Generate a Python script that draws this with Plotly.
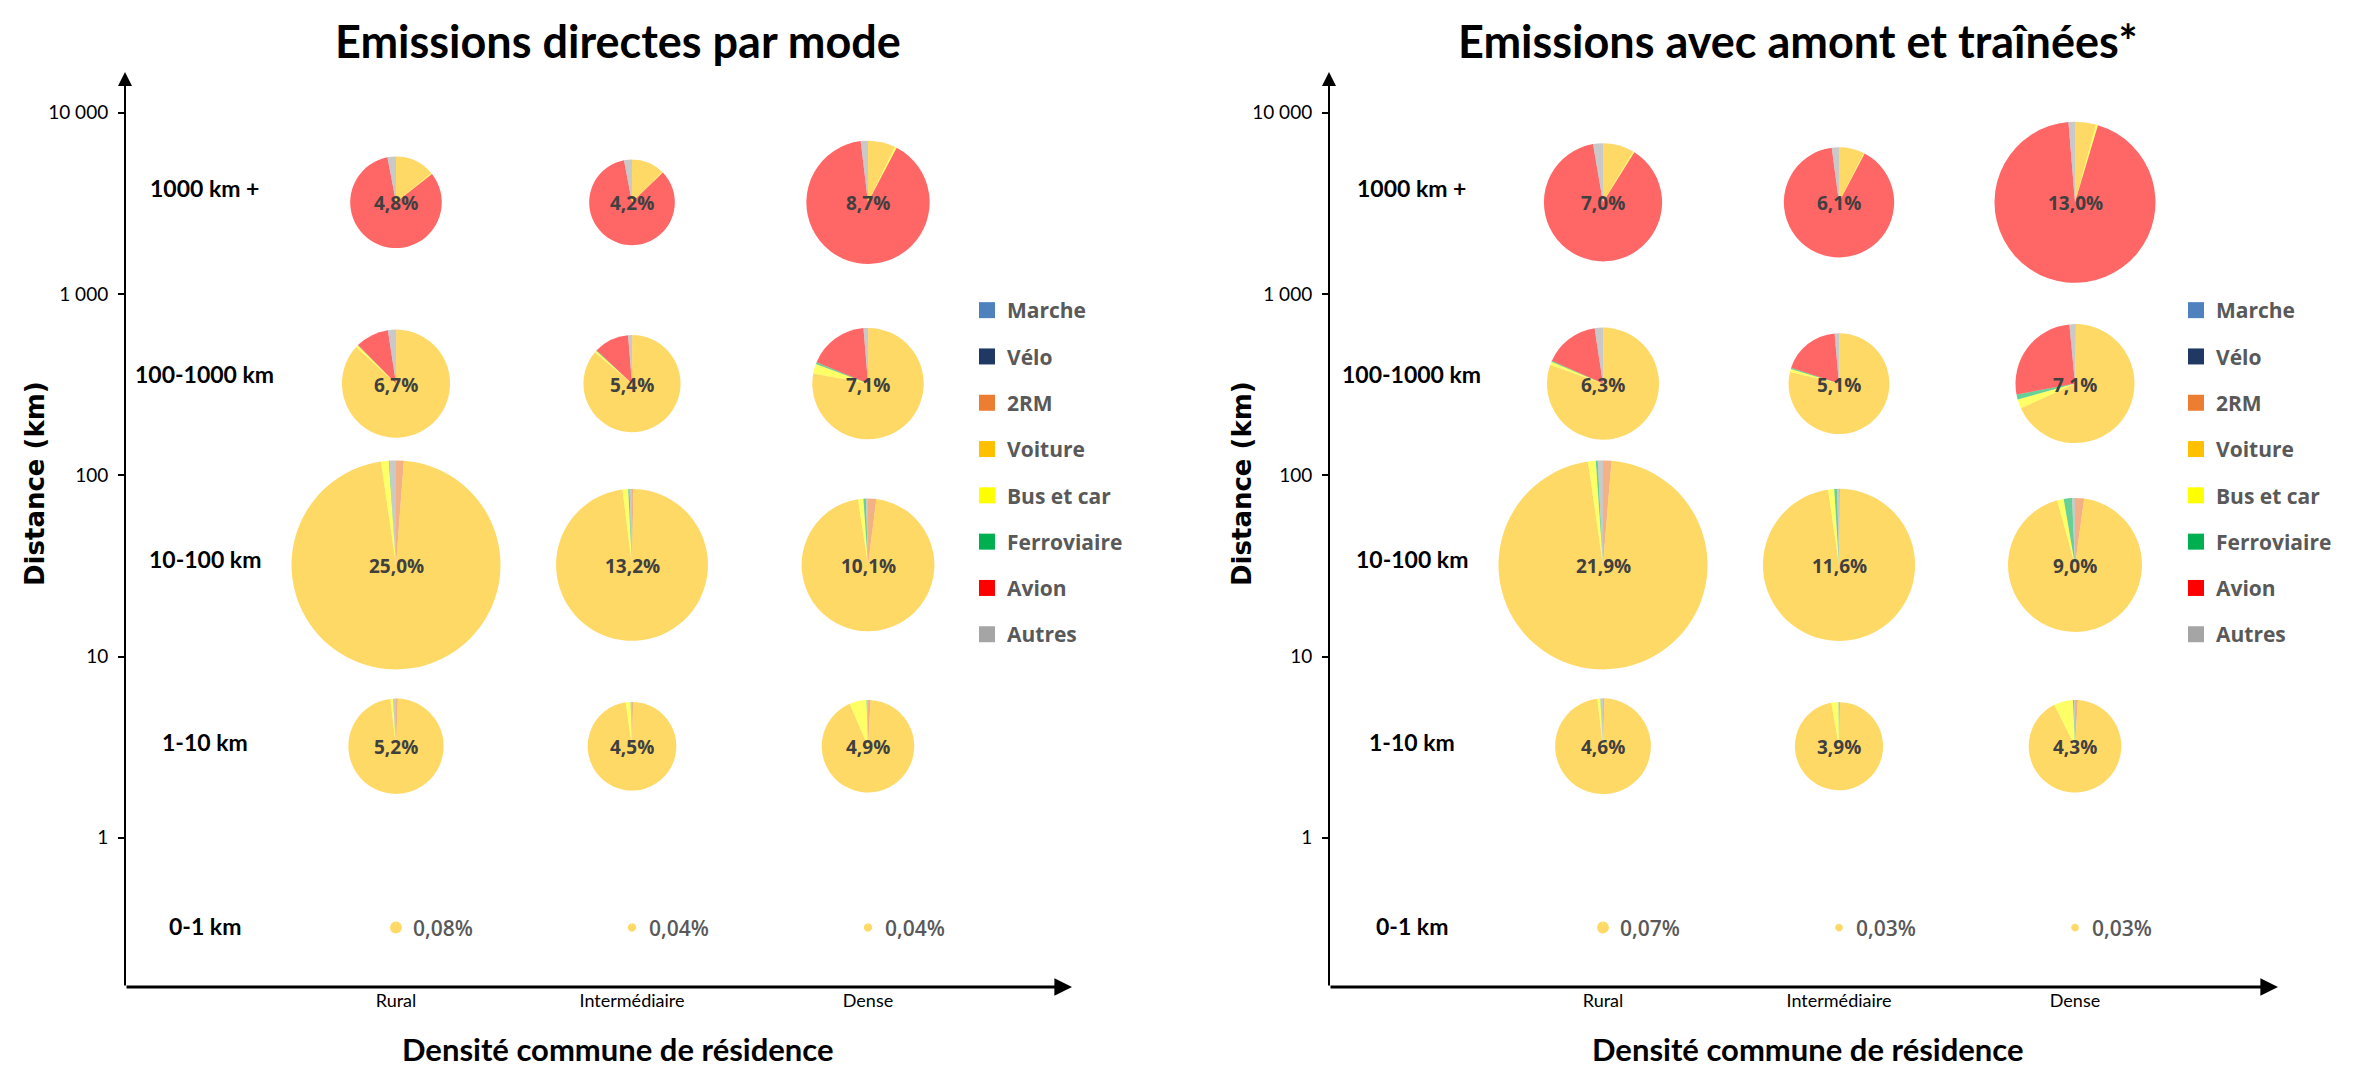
import math
import plotly.graph_objects as go

# ---------------- DATA ----------------
modes = ["Marche", "Vélo", "2RM", "Voiture", "Bus et car", "Ferroviaire", "Avion", "Autres"]
mode_colors = ["#4F81BD", "#1F3864", "#ED7D31", "#FFC000", "#FFFF00", "#00B050", "#FF0000", "#A5A5A5"]

densites = ["Rural", "Intermédiaire", "Dense"]
classes = ["0-1 km", "1-10 km", "10-100 km", "100-1000 km", "1000 km +"]
class_mid_km = [0.32, 3.2, 32, 320, 3200]      # geometric middle of each distance class

tick_vals = [1, 10, 100, 1000, 10000]
tick_text = ["1", "10", "100", "1 000", "10 000"]

# share of each class x density in total emissions (%), rows = classes, cols = densites
direct_totals = [[0.08, 0.04, 0.04], [5.2, 4.5, 4.9], [25.0, 13.2, 10.1], [6.7, 5.4, 7.1], [4.8, 4.2, 8.7]]
amont_totals = [[0.07, 0.03, 0.03], [4.6, 3.9, 4.3], [21.9, 11.6, 9.0], [6.3, 5.1, 7.1], [7.0, 6.1, 13.0]]

# modal split inside each pie (%), order = modes ; [Rural, Intermédiaire, Dense]
direct_0_1 = [[0, 0, 0.5, 98.5, 1.0, 0, 0, 0], [0, 0, 0.5, 98.5, 1.0, 0, 0, 0], [0, 0, 0.5, 98.5, 1.0, 0, 0, 0]]
direct_1_10 = [[0, 0, 0.6, 97.5, 0.9, 0.1, 0, 0.9], [0, 0, 0.4, 97.3, 1.8, 0.1, 0, 0.4], [0, 0, 0.9, 92.6, 6.0, 0.2, 0, 0.3]]
direct_10_100 = [[0, 0, 1.2, 96.5, 1.2, 0.1, 0, 1.0], [0, 0, 0.3, 97.7, 1.2, 0.3, 0, 0.5], [0, 0, 2.0, 95.6, 1.3, 0.6, 0, 0.5]]
direct_100_1000 = [[0, 0, 0.1, 86.7, 0.7, 0.1, 10.0, 2.4], [0, 0, 0.1, 86.1, 0.6, 0.2, 11.7, 1.3], [0, 0, 0.1, 77.8, 2.8, 0.6, 17.4, 1.3]]
direct_1000p = [[0, 0, 0, 14.0, 0.4, 0, 82.6, 3.0], [0, 0, 0, 12.5, 0.3, 0, 84.2, 3.0], [0, 0, 0, 7.2, 0.5, 0, 90.4, 1.9]]

amont_0_1 = [[0, 0, 0.5, 98.5, 1.0, 0, 0, 0], [0, 0, 0.5, 98.5, 1.0, 0, 0, 0], [0, 0, 0.5, 98.5, 1.0, 0, 0, 0]]
amont_1_10 = [[0, 0, 0.5, 97.6, 1.0, 0.1, 0, 0.8], [0, 0, 0.4, 96.8, 2.6, 0.1, 0, 0.1], [0, 0, 1.0, 91.6, 6.7, 0.4, 0, 0.3]]
amont_10_100 = [[0, 0, 1.3, 96.4, 1.2, 0.3, 0, 0.8], [0, 0, 0.2, 97.5, 1.3, 0.6, 0, 0.4], [0, 0, 2.2, 93.5, 1.6, 2.0, 0, 0.7]]
amont_100_1000 = [[0, 0, 0.1, 80.3, 1.0, 0.3, 15.9, 2.4], [0, 0, 0.1, 78.6, 1.0, 0.4, 18.5, 1.4], [0, 0, 0.2, 68.0, 2.5, 1.4, 26.4, 1.5]]
amont_1000p = [[0, 0, 0, 8.5, 0.4, 0, 88.4, 2.7], [0, 0, 0, 7.4, 0.3, 0, 90.2, 2.1], [0, 0, 0, 4.2, 0.4, 0, 94.1, 1.3]]

titles = ["Emissions directes par mode", "Emissions avec amont et traînées*"]
x_title = "Densité commune de résidence"
y_title = "Distance (km)"

# ---------------- LAYOUT CONSTANTS (pixels) ----------------
W, H = 2361, 1066
Y_TOP, Y_BOT = 64, 979
TICK4_PX, DECADE_PX = 104.6, 181.3
SP = 236.0
D_MAX = 209.0
panels = [
    dict(x0=117, x1=1064, col1=388, totals=direct_totals,
         splits=[direct_0_1, direct_1_10, direct_10_100, direct_100_1000, direct_1000p],
         title_x=610, legend_x=959, ytitle_x=27, xtitle_x=610),
    dict(x0=1321, x1=2270, col1=1595, totals=amont_totals,
         splits=[amont_0_1, amont_1_10, amont_10_100, amont_100_1000, amont_1000p],
         title_x=1790, legend_x=2168, ytitle_x=1234, xtitle_x=1800),
]
row_label_x = 0.19
row_label_shift = [2, 4, 6, 10, 14]

FONT_TXT = "Lato"
FONT_SANS = "Open Sans"


def hex_rgba(h, a):
    h = h.lstrip("#")
    return "rgba(%d,%d,%d,%.2f)" % (int(h[0:2], 16), int(h[2:4], 16), int(h[4:6], 16), a)


pie_colors = [hex_rgba(c, 0.6) for c in mode_colors]


def fmt(v):
    s = ("%.2f" % v) if v < 1 else ("%.1f" % v)
    return s.replace(".", ",") + "%"


fig = go.Figure()
annotations = []
y_lo = 4 - (Y_BOT - TICK4_PX) / DECADE_PX
y_hi = 4 + (TICK4_PX - Y_TOP) / DECADE_PX

for pi, p in enumerate(panels):
    sfx = "" if pi == 0 else str(pi + 1)
    xa, ya = "x" + sfx, "y" + sfx
    x_lo = 1 - (p["col1"] - p["x0"]) / SP
    x_hi = 1 + (p["x1"] - p["col1"]) / SP
    vmax = max(max(r) for r in p["totals"])

    fig.update_layout(**{
        "xaxis" + sfx: dict(domain=[p["x0"] / W, p["x1"] / W], range=[x_lo, x_hi], anchor=ya,
                            tickmode="array", tickvals=[1, 2, 3], ticktext=densites, ticks="",
                            showgrid=False, zeroline=False, showline=False, automargin=False,
                            tickfont=dict(family=FONT_TXT, size=18, color="#000000"),
                            ticklabelstandoff=1, fixedrange=True),
        "yaxis" + sfx: dict(domain=[(H - Y_BOT) / H, (H - Y_TOP) / H], type="log", range=[y_lo, y_hi],
                            anchor=xa, tickmode="array", tickvals=tick_vals, ticktext=tick_text,
                            ticks="outside", ticklen=6, tickwidth=1.5, tickcolor="#000000",
                            showgrid=False, zeroline=False, showline=False, automargin=False,
                            tickfont=dict(family=FONT_TXT, size=19, color="#000000"),
                            ticklabelstandoff=6, fixedrange=True),
    })

    # axis arrows
    annotations.append(dict(xref=xa + " domain", yref=ya + " domain", axref=xa + " domain", ayref=ya + " domain",
                            x=1, y=0, ax=0, ay=0, showarrow=True, arrowhead=2, arrowsize=1.1,
                            arrowwidth=3.2, arrowcolor="#000000", text=""))
    annotations.append(dict(xref=xa + " domain", yref=ya + " domain", axref=xa + " domain", ayref=ya + " domain",
                            x=0, y=1, ax=0, ay=0, showarrow=True, arrowhead=2, arrowsize=1.4,
                            arrowwidth=2, arrowcolor="#000000", text=""))

    # pies
    for ri, cls in enumerate(classes):
        ly = math.log10(class_mid_km[ri])
        for ci, dens in enumerate(densites):
            tot = p["totals"][ri][ci]
            col = ci + 1
            cx = p["x0"] + (col - x_lo) / (x_hi - x_lo) * (p["x1"] - p["x0"])
            cy = Y_TOP + (y_hi - ly) / (y_hi - y_lo) * (Y_BOT - Y_TOP)
            r = D_MAX * math.sqrt(tot / vmax) / 2
            fig.add_trace(go.Pie(
                values=p["splits"][ri][ci], labels=modes, sort=False, direction="clockwise", rotation=0,
                marker=dict(colors=pie_colors, line=dict(width=0)), textinfo="none",
                hovertemplate="%{label}: %{value}%<extra></extra>", showlegend=False,
                domain=dict(x=[(cx - r) / W, (cx + r) / W], y=[(H - cy - r) / H, (H - cy + r) / H]),
            ))
            if ri == 0:
                annotations.append(dict(xref=xa, yref=ya, x=col, y=ly, text=fmt(tot), showarrow=False,
                                        xanchor="left", yanchor="middle", xshift=15,
                                        font=dict(family=FONT_SANS, size=21, color="#595959", weight=600)))
            else:
                annotations.append(dict(xref=xa, yref=ya, x=col, y=ly, text="<b>" + fmt(tot) + "</b>",
                                        showarrow=False, xanchor="center", yanchor="middle", yshift=-1,
                                        font=dict(family=FONT_SANS, size=19, color="#404040")))
        # row label
        annotations.append(dict(xref=xa, yref=ya, x=row_label_x, y=ly, text="<b>" + cls + "</b>", showarrow=False,
                                xanchor="center", yanchor="middle", yshift=row_label_shift[ri],
                                font=dict(family=FONT_TXT, size=23, color="#000000")))

    # titles
    annotations.append(dict(xref="paper", yref="paper", x=p["title_x"] / W, y=(H - 33) / H,
                             xanchor="center", yanchor="middle", text="<b>" + titles[pi] + "</b>",
                             showarrow=False, font=dict(family=FONT_TXT, size=45, color="#000000")))
    annotations.append(dict(xref="paper", yref="paper", x=p["xtitle_x"] / W, y=(H - 1041) / H,
                             xanchor="center", yanchor="middle", borderpad=0, text="<b>" + x_title + "</b>",
                             showarrow=False, font=dict(family=FONT_TXT, size=31, color="#000000")))
    annotations.append(dict(xref="paper", yref="paper", x=p["ytitle_x"] / W, y=(H - 476) / H,
                             xanchor="center", yanchor="middle", text="<b>" + y_title + "</b>",
                             showarrow=False, textangle=-90, font=dict(family="DejaVu Sans", size=26, color="#000000")))

    # legend entries
    lg = "legend" if pi == 0 else "legend2"
    for mi, m in enumerate(modes):
        fig.add_trace(go.Scatter(x=[None], y=[None], xaxis=xa, yaxis=ya, mode="markers", name="<b>" + m + "</b>",
                                 marker=dict(symbol="square", size=16, color=mode_colors[mi]),
                                 legend=lg, legendgroup="g%d_%d" % (pi, mi), showlegend=True, hoverinfo="skip"))

legend_common = dict(yanchor="top", xanchor="left", bgcolor="rgba(0,0,0,0)", tracegroupgap=16,
                     itemsizing="trace", font=dict(family=FONT_SANS, size=21, color="#595959"))
fig.update_layout(
    width=W, height=H, autosize=False,
    margin=dict(l=0, r=0, t=0, b=0, pad=0),
    paper_bgcolor="white", plot_bgcolor="white",
    annotations=annotations,
    legend=dict(x=panels[0]["legend_x"] / W, y=(H - 282) / H, **legend_common),
    legend2=dict(x=panels[1]["legend_x"] / W, y=(H - 282) / H, **legend_common),
)

fig.write_html("out.html")
